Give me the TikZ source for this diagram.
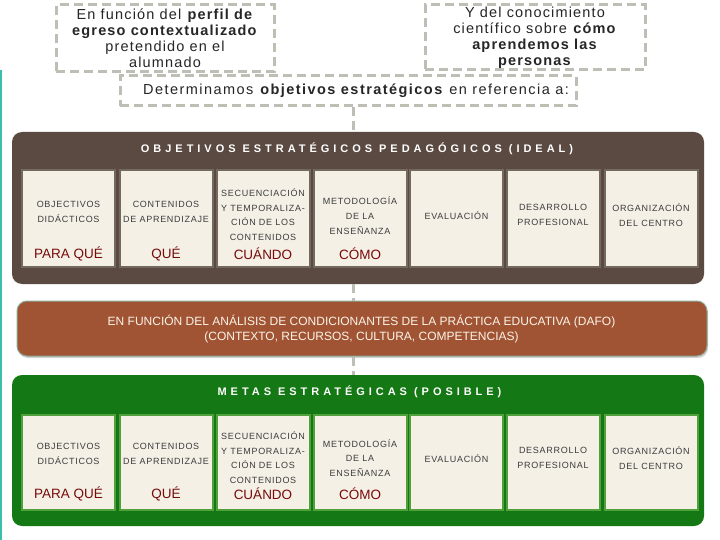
\documentclass[tikz,border=0pt]{standalone}
\usepackage{fontspec}
\setmainfont{Liberation Sans}
\newfontfamily\spacedfont[LetterSpace=36]{Liberation Sans}
\newfontfamily\boxfont[LetterSpace=8]{Liberation Sans}
\newfontfamily\topfont[LetterSpace=8]{Liberation Sans}
\newfontfamily\midfont[LetterSpace=10]{Liberation Sans}
\usetikzlibrary{shadows}
\definecolor{panelbrown}{RGB}{90,74,66}
\definecolor{panelrust}{RGB}{160,84,52}
\definecolor{panelgreen}{RGB}{20,120,20}
\definecolor{cream}{RGB}{244,240,230}
\definecolor{dashgray}{RGB}{190,190,180}
\definecolor{darkred}{RGB}{120,10,10}
\definecolor{boxtext}{RGB}{60,60,60}
\definecolor{topteal}{RGB}{60,190,170}
\definecolor{brownedge}{RGB}{115,105,95}
\definecolor{greenedge}{RGB}{80,160,60}
\definecolor{rustedge}{RGB}{140,170,150}
\definecolor{rusttext}{RGB}{252,244,232}
\begin{document}
\begin{tikzpicture}[x=1pt,y=-1pt,
  dashbox/.style={draw=dashgray,line width=3pt,dash pattern=on 9pt off 5pt,fill=white,
    align=center,inner sep=0pt,text=black!85},
  dashline/.style={draw=dashgray,line width=3pt,dash pattern=on 9pt off 5pt},
  panel/.style={rounded corners=10pt,inner sep=0pt,minimum width=692pt},
  subbox/.style={fill=cream,line width=2pt,minimum width=93pt,inner sep=0pt},
  boxtxt/.style={font=\boxfont\fontsize{9}{14.7}\selectfont,text=boxtext,align=center,inner sep=0pt},
  redtxt/.style={font=\fontsize{13.5}{15}\selectfont,text=darkred,inner sep=0pt},
  titletxt/.style={font=\spacedfont\bfseries\fontsize{11}{13}\selectfont,text=white,inner sep=0pt}
]
\useasboundingbox (0,0) rectangle (720,540);
\fill[white] (0,0) rectangle (720,540);
\draw[topteal,line width=2pt] (1,70) -- (1,540);

% top dashed boxes
\node[dashbox,minimum width=218pt,minimum height=67pt,font=\topfont\fontsize{14.5}{16}\selectfont] (topL) at (165,38.5)
  {\raisebox{-1pt}{}En función del \textbf{perfil de}\\\textbf{egreso contextualizado}\\pretendido en el\\alumnado};
\node[dashbox,minimum width=220pt,minimum height=65pt,font=\topfont\fontsize{14.5}{16}\selectfont] (topR) at (535,37.5)
  {Y del conocimiento\\científico sobre \textbf{cómo}\\\textbf{aprendemos las}\\\textbf{personas}};
\node[dashbox,minimum width=456pt,minimum height=30pt,font=\midfont\fontsize{14.5}{16}\selectfont] (mid) at (348,91)
  {\hspace*{16pt}Determinamos \textbf{objetivos estratégicos} en referencia a:};

% panels
\node[panel,fill=panelbrown,minimum height=152pt] (brown) at (358,208) {};
\node[panel,fill=panelrust,draw=rustedge,line width=1pt,minimum width=690pt,minimum height=55pt,
  drop shadow={shadow xshift=1pt,shadow yshift=-2pt,fill=black!35}] (rust) at (362,328.5) {};
\node[panel,fill=panelgreen,minimum height=151pt] (green) at (358,450.5) {};

% spine connectors
\coordinate (spine) at (353,0);
\draw[dashline] (mid.south -| spine) -- (brown.north -| spine);
\draw[dashline] (brown.south -| spine) -- (rust.north -| spine);
\draw[dashline] (rust.south -| spine) -- (green.north -| spine);

% titles
\node[titletxt] (btitle) at (357,149) {OBJETIVOS ESTRATÉGICOS PEDAGÓGICOS (IDEAL)};
\node[titletxt] (gtitle) at (359.5,392) {METAS ESTRATÉGICAS (POSIBLE)};
\node[font=\fontsize{12}{15}\selectfont,text=rusttext,align=center,inner sep=0pt] (rtxt) at (361.5,329)
  {EN FUNCIÓN DEL ANÁLISIS DE CONDICIONANTES DE LA PRÁCTICA EDUCATIVA (DAFO)\\(CONTEXTO, RECURSOS, CULTURA, COMPETENCIAS)};

% brown row
\foreach \i/\cx/\ty/\txt in {
  1/68.5/212/{OBJECTIVOS\\DIDÁCTICOS},
  2/166/212/{CONTENIDOS\\DE APRENDIZAJE},
  3/263/214.5/{SECUENCIACIÓN\\Y TEMPORALIZA-\\CIÓN DE LOS\\CONTENIDOS},
  4/360/215.5/{METODOLOGÍA\\DE LA\\ENSEÑANZA},
  5/456.5/215.5/{EVALUACIÓN},
  6/553/215/{DESARROLLO\\PROFESIONAL},
  7/651/215/{ORGANIZACIÓN\\DEL CENTRO}}
{
  \node[subbox,draw=brownedge,minimum height=97pt] (b\i) at (\cx,218.5) {};
  \node[boxtxt] (bt\i) at (\cx,\ty) {\txt};
}
\node[redtxt] (br1) at (68.5,254) {PARA QUÉ};
\node[redtxt] (br2) at (166,254) {QUÉ};
\node[redtxt] (br3) at (263,254) {CUÁNDO};
\node[redtxt] (br4) at (360,254) {CÓMO};

% green row
\foreach \i/\cx/\ty/\txt in {
  1/68.5/454/{OBJECTIVOS\\DIDÁCTICOS},
  2/166/454/{CONTENIDOS\\DE APRENDIZAJE},
  3/263/457.5/{SECUENCIACIÓN\\Y TEMPORALIZA-\\CIÓN DE LOS\\CONTENIDOS},
  4/360/458/{METODOLOGÍA\\DE LA\\ENSEÑANZA},
  5/456.5/458.5/{EVALUACIÓN},
  6/553/458/{DESARROLLO\\PROFESIONAL},
  7/651/458/{ORGANIZACIÓN\\DEL CENTRO}}
{
  \node[subbox,draw=greenedge,minimum height=95pt] (g\i) at (\cx,462.5) {};
  \node[boxtxt] (gt\i) at (\cx,\ty) {\txt};
}
\node[redtxt] (gr1) at (68.5,494) {PARA QUÉ};
\node[redtxt] (gr2) at (166,494) {QUÉ};
\node[redtxt] (gr3) at (263,494) {CUÁNDO};
\node[redtxt] (gr4) at (360,494) {CÓMO};
\end{tikzpicture}
\end{document}
